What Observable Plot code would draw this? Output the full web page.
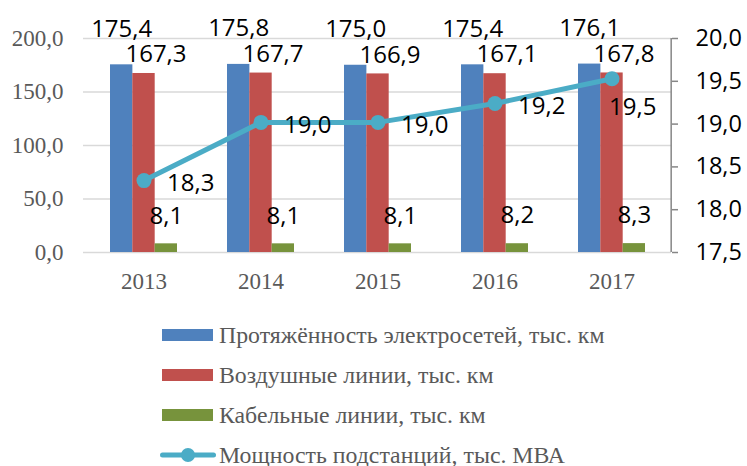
<!DOCTYPE html>
<html>
<head>
<meta charset="utf-8">
<script src="https://cdn.jsdelivr.net/npm/d3@7"></script>
<script src="https://cdn.jsdelivr.net/npm/@observablehq/plot@0.6"></script>
<style>
  html, body { margin: 0; padding: 0; background: #fff; }
  #chart svg { display: block; }
  #legend { padding-top: 15px; font-family: "Liberation Serif", serif; font-size: 23.8px; color: #595959; }
  .row { height: 40px; display: flex; align-items: center; }
  .sw { display: inline-block; width: 51px; height: 12px; margin-left: 162px; margin-right: 6px; }
  .lsw { margin-left: 160px; margin-right: 3px; width: 56px; height: 16px; display: inline-block; }
</style>
</head>
<body>
<div id="chart"></div>
<div id="legend"></div>
<script>
const years = ["2013", "2014", "2015", "2016", "2017"];
const totalLen = [175.4, 175.8, 175.0, 175.4, 176.1];
const overheadLen = [167.3, 167.7, 166.9, 167.1, 167.8];
const cableLen = [8.1, 8.1, 8.1, 8.2, 8.3];
const capacity = [18.34, 19.02, 19.02, 19.24, 19.53];
const leftTicks = [0, 50, 100, 150, 200];
const rightTicks = [17.5, 18.0, 18.5, 19.0, 19.5, 20.0];
const seriesNames = [
  "Протяжённость электросетей, тыс. км",
  "Воздушные линии, тыс. км",
  "Кабельные линии, тыс. км",
  "Мощность подстанций, тыс. МВА"
];
const colors = ["#4F81BD", "#C0504D", "#77933C", "#4BACC6"];

const W = 747, H = 300, ML = 83, MR = 76, MT = 38, MB = 48;
const PI = 0.43, PO = 0.219;
const step = (W - ML - MR) / (years.length - PI + 2 * PO);
const bw = step * (1 - PI);
const yR = d3.scaleLinear().domain([17.5, 20]).range([0, 200]);
const fmt = d => d3.format(".1f")(d).replace(".", ",");

const rows = years.map((y, i) => ({
  year: y, total: totalLen[i], overhead: overheadLen[i], cable: cableLen[i],
  capRaw: capacity[i], cap: yR(capacity[i])
}));
const lastYear = years[years.length - 1];

const sans = "Open Sans, sans-serif";
const serif = "Liberation Serif, serif";
const LF = 24;

const chart = Plot.plot({
  width: W, height: H,
  marginLeft: ML, marginRight: MR, marginTop: MT, marginBottom: MB,
  x: { type: "band", domain: years, paddingInner: PI, paddingOuter: PO },
  y: { domain: [0, 200] },
  style: { background: "#fff", overflow: "visible" },
  marks: [
    Plot.ruleY(leftTicks, { stroke: "#d9d9d9", strokeWidth: 1.5 }),
    Plot.barY(rows, { x: "year", y: "total", fill: colors[0], insetRight: 2 * bw / 3 }),
    Plot.barY(rows, { x: "year", y: "overhead", fill: colors[1], insetLeft: bw / 3, insetRight: bw / 3 }),
    Plot.barY(rows, { x: "year", y: "cable", fill: colors[2], insetLeft: 2 * bw / 3 }),
    Plot.ruleX([lastYear], { x: d => d, y1: 0, y2: 200, dx: bw / 2 + PO * step, stroke: "#868686", strokeWidth: 1.5 }),
    Plot.axisY(leftTicks, { anchor: "left", tickSize: 0, tickPadding: 20, tickFormat: fmt, label: null,
      fontFamily: serif, fontSize: 23, color: "#595959" }),
    Plot.axisY(rightTicks.map(yR), { anchor: "right", tickSize: 6, tickPadding: 18, label: null,
      tickFormat: d => fmt(yR.invert(d)), stroke: "#868686", fill: "#000", strokeWidth: 1.5,
      fontFamily: sans, fontSize: 23.5 }),
    Plot.axisX({ tickSize: 0, tickPadding: 20, label: null, fontFamily: serif, fontSize: 23, color: "#595959" }),
    Plot.line(rows, { x: "year", y: "cap", stroke: colors[3], strokeWidth: 5 }),
    Plot.dot(rows, { x: "year", y: "cap", r: 7.5, fill: colors[3] }),
    Plot.text(rows, { x: "year", y: "total", text: d => fmt(d.total), dx: -bw / 3, dy: -36,
      fontFamily: sans, fontSize: LF, fill: "#000" }),
    Plot.text(rows, { x: "year", y: "overhead", text: d => fmt(d.overhead), dx: 12, dy: -19,
      fontFamily: sans, fontSize: LF, fill: "#000" }),
    Plot.text(rows, { x: "year", y: "cable", text: d => fmt(d.cable), dx: bw / 3, dy: -28,
      fontFamily: sans, fontSize: LF, fill: "#000" }),
    Plot.text(rows.filter(d => d.year !== lastYear), { x: "year", y: "cap", text: d => fmt(d.capRaw),
      dx: 23, dy: 3, textAnchor: "start", fontFamily: sans, fontSize: LF, fill: "#000" }),
    Plot.text(rows.filter(d => d.year === lastYear), { x: "year", y: "cap", text: d => fmt(d.capRaw),
      dx: -3, dy: 29, textAnchor: "start", fontFamily: sans, fontSize: LF, fill: "#000" })
  ]
});
document.getElementById("chart").append(chart);

const legend = document.getElementById("legend");
seriesNames.forEach((name, i) => {
  const row = document.createElement("div");
  row.className = "row";
  if (i < 3) {
    const sw = document.createElement("span");
    sw.className = "sw";
    sw.style.background = colors[i];
    row.append(sw);
  } else {
    const ns = "http://www.w3.org/2000/svg";
    const s = document.createElementNS(ns, "svg");
    s.setAttribute("class", "lsw");
    s.setAttribute("viewBox", "0 0 56 16");
    const l = document.createElementNS(ns, "line");
    l.setAttribute("x1", 2.5); l.setAttribute("x2", 53.5); l.setAttribute("y1", 8); l.setAttribute("y2", 8);
    l.setAttribute("stroke", colors[3]); l.setAttribute("stroke-width", 5); l.setAttribute("stroke-linecap", "round");
    const c = document.createElementNS(ns, "circle");
    c.setAttribute("cx", 28); c.setAttribute("cy", 8); c.setAttribute("r", 7); c.setAttribute("fill", colors[3]);
    s.append(l, c);
    row.append(s);
  }
  const t = document.createElement("span");
  t.textContent = name;
  row.append(t);
  legend.append(row);
});
</script>
</body>
</html>
